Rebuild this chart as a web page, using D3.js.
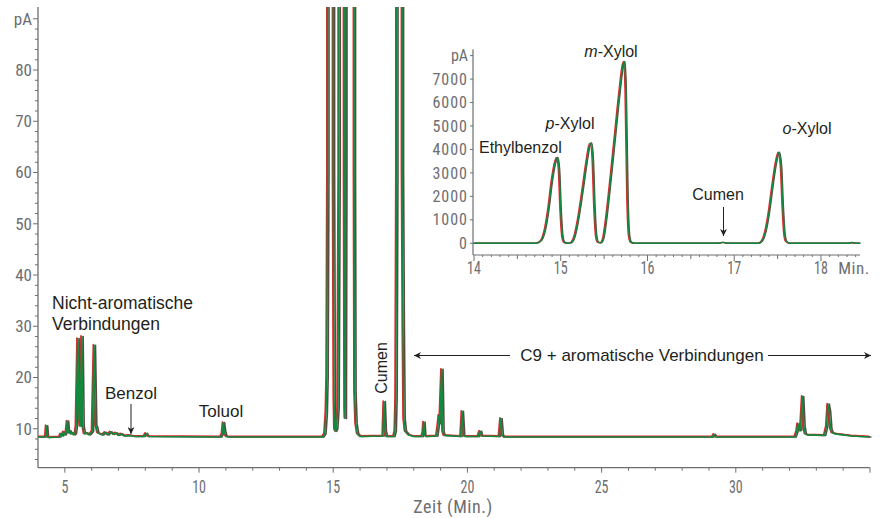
<!DOCTYPE html>
<html><head><meta charset="utf-8">
<script src="https://cdn.jsdelivr.net/npm/d3@7"></script>
<style>
html,body{margin:0;padding:0;background:#fff;}
svg{display:block;}
.tick-label{font-family:"Liberation Sans Narrow","Arial Narrow","Roboto Condensed",Roboto,sans-serif;fill:#6d6e71;}
.ann{font-family:"Liberation Sans",Arial,sans-serif;fill:#231f20;}
</style></head>
<body>
<svg id="chart" width="883" height="518"></svg>
<script>
// ---------- DATA ----------
const mainTime = [4.0,4.25,4.28,4.31,4.34,4.38,4.8,4.85,4.9,4.95,5.0,5.05,5.09,5.13,5.18,5.22,5.28,5.33,5.38,5.42,5.48,5.53,5.57,5.6,5.63,5.67,5.72,5.8,5.9,5.95,6.02,6.09,6.14,6.18,6.22,6.3,6.4,6.5,6.6,6.7,6.8,6.9,7.0,7.1,7.2,7.4,7.6,7.95,8.02,8.1,10.8,10.86,10.9,10.95,11.0,11.1,
14.6,14.68,14.73,14.76,14.79,14.9,15.0,15.03,15.05,15.08,15.12,15.17,15.21,15.33,15.41,15.43,15.44,15.46,15.73,15.78,15.8,15.84,15.9,16.0,
16.85,16.89,16.93,16.98,17.25,17.3,17.33,17.36,17.52,17.57,17.6,17.63,17.68,17.8,18.0,
18.3,18.34,18.37,18.4,18.45,18.85,18.9,18.94,18.97,19.04,19.08,19.12,19.75,19.8,19.85,19.9,20.4,20.45,20.48,20.52,21.18,21.24,21.29,21.35,
29.13,29.19,29.24,32.2,32.27,32.31,32.36,32.41,32.48,32.53,32.58,32.65,33.3,33.38,33.43,33.48,33.53,33.58,33.7,34.0,34.3,35.0];
const mainSignal = [8.4,8.4,8.6,10.6,8.6,8.3,8.4,9.0,8.6,9.4,8.8,9.5,11.5,9.2,9.6,9.0,9.2,8.8,9.0,10.5,27.6,12.0,10.5,20.0,28.0,10.5,9.0,9.2,8.8,9.0,9.5,26.3,10.8,10.2,9.2,9.0,8.8,9.3,8.8,9.4,8.9,9.2,8.7,9.0,8.6,8.7,8.5,8.5,9.1,8.5,8.4,9.0,11.2,9.3,8.5,8.4,
8.4,9.0,13.0,20.0,60,3650,60,16.0,10.0,9.5,10.0,14.0,60,4280,60,14.0,12.0,60,7750,60,17.0,11.0,9.0,8.5,
8.6,15.3,9.5,8.5,8.5,9.5,16,60,3880,60,30,12.0,9.5,8.8,8.5,
8.5,9.2,11.3,8.8,8.5,8.6,10.5,12.6,11.0,21.6,9.5,8.7,8.5,13.4,8.7,8.5,8.5,9.4,9.5,8.6,8.5,12.0,8.8,8.4,
8.4,8.9,8.4,8.4,9.5,11.0,9.6,9.8,16.3,10.5,9.0,8.8,8.7,10.5,14.8,13.5,10.0,9.2,9.0,8.8,8.6,8.4];

const insetTime = [14.0,14.7,14.74,14.78,14.82,14.86,14.9,14.94,14.96,14.98,15.0,15.02,15.04,15.08,15.12,15.16,15.2,15.25,15.3,15.33,15.35,15.37,15.39,15.41,15.43,15.46,15.49,15.53,15.58,15.63,15.68,15.72,15.735,15.75,15.77,15.79,15.81,15.85,16.8,16.84,16.87,16.9,16.94,17.28,17.32,17.36,17.4,17.44,17.48,17.515,17.54,17.56,17.58,17.6,17.64,18.33,18.36,18.39,18.45];
const insetSignal = [0,0,30,150,600,1500,2700,3500,3660,3200,1400,300,50,0,30,300,1000,2200,3500,4150,4280,3600,1500,300,50,20,200,1200,2900,4700,6500,7650,7750,6500,2000,300,50,0,0,15,40,15,0,0,100,500,1300,2400,3400,3880,3300,1600,400,80,0,0,40,0,0];

const mainXTicks = [5,10,15,20,25,30];
const mainYTicks = [10,20,30,40,50,60,70,80];
const insetXTicks = [14,15,16,17,18];
const insetYTicks = [0,1000,2000,3000,4000,5000,6000,7000];

// ---------- CHART ----------
const svg = d3.select("#chart");
const axisColor = "#6d6e71";
const traceColors = ["#5b4b46", "#e3262b", "#12893f"];
const traceDx = [1.4, -0.8, 0];

const x = d3.scaleLinear().domain([4, 35]).range([38, 870]);
const y = d3.scaleLinear().domain([2.4, 92.3]).range([467.7, 7]);

const defs = svg.append("defs");
defs.append("clipPath").attr("id","clipMain").append("rect")
  .attr("x", 38).attr("y", 7).attr("width", 834).attr("height", 461);
defs.append("clipPath").attr("id","clipInset").append("rect")
  .attr("x", 473).attr("y", 40).attr("width", 388).attr("height", 215);
const mk = defs.append("marker").attr("id","arrow").attr("viewBox","0 0 10 10")
  .attr("refX",10).attr("refY",5).attr("markerWidth",9).attr("markerHeight",7)
  .attr("markerUnits","userSpaceOnUse").attr("orient","auto");
mk.append("path").attr("d","M0,0 L10,5 L0,10 L3,5 Z").attr("fill","#231f20");

// main axes
const gx = svg.append("g").attr("transform", `translate(0,${y.range()[0]})`);
gx.append("line").attr("x1", x(4)).attr("x2", x(35)).attr("stroke", axisColor).attr("stroke-width",1.3);
gx.selectAll(".mt").data(d3.range(5, 36, 1)).join("line")
  .attr("x1", d => x(d)).attr("x2", d => x(d))
  .attr("y1", 0).attr("y2", d => (d % 5 === 0) ? 5 : 3)
  .attr("stroke", axisColor).attr("stroke-width",1);
gx.selectAll(".lbl").data(mainXTicks).join("text").attr("class","tick-label")
  .attr("transform", d => `translate(${x(d)},25) scale(0.8,1)`).attr("text-anchor","middle")
  .style("font-size","17.5px").text(d => d);
svg.append("text").attr("class","tick-label").attr("x", 453).attr("y", 513)
  .attr("text-anchor","middle").style("font-size","18px").style("letter-spacing","0.5px").text("Zeit (Min.)");

const gy = svg.append("g").attr("transform", `translate(${x(4)},0)`);
gy.append("line").attr("y1", y.range()[0]).attr("y2", y.range()[1]).attr("stroke", axisColor).attr("stroke-width",1.3);
gy.selectAll(".mt").data(d3.range(4, 92, 2)).join("line")
  .attr("x1", d => (d % 10 === 0) ? -5 : -3).attr("x2", 0)
  .attr("y1", d => y(d)).attr("y2", d => y(d))
  .attr("stroke", axisColor).attr("stroke-width",1);
gy.selectAll(".lbl").data(mainYTicks).join("text").attr("class","tick-label")
  .attr("x", -6).attr("y", d => y(d)).attr("dy","0.35em").attr("text-anchor","end")
  .style("font-size","17px").text(d => d);
gy.append("text").attr("class","tick-label").attr("x", -6).attr("y", y(90)).attr("dy","0.35em")
  .attr("text-anchor","end").style("font-size","17px").text("pA");

// main traces
const mainData = mainTime.map((t,i) => [t, mainSignal[i]]);
const lineMain = d3.line().x(d => x(d[0])).y(d => y(d[1]));
const gm = svg.append("g").attr("clip-path","url(#clipMain)");
traceColors.forEach((c,i) => {
  gm.append("path").datum(mainData).attr("d", lineMain)
    .attr("transform", `translate(${traceDx[i]},${i===1?-0.6:0})`)
    .attr("fill","none").attr("stroke", c).attr("stroke-width", 1.6).attr("stroke-linejoin","round");
});

// main annotations
svg.append("text").attr("class","ann").attr("x", 52).attr("y", 309).style("font-size","17.5px").text("Nicht-aromatische");
svg.append("text").attr("class","ann").attr("x", 52).attr("y", 330).style("font-size","17.5px").text("Verbindungen");
svg.append("text").attr("class","ann").attr("x", 131).attr("y", 399).attr("text-anchor","middle").style("font-size","17px").text("Benzol");
svg.append("line").attr("x1",131).attr("x2",131).attr("y1",404).attr("y2",434)
  .attr("stroke","#231f20").attr("stroke-width",1).attr("marker-end","url(#arrow)");
svg.append("text").attr("class","ann").attr("x", 221).attr("y", 417).attr("text-anchor","middle").style("font-size","17px").text("Toluol");
svg.append("text").attr("class","ann").attr("transform","translate(387,368) rotate(-90)")
  .attr("text-anchor","middle").style("font-size","16px").text("Cumen");
svg.append("text").attr("class","ann").attr("x", 642).attr("y", 361).attr("text-anchor","middle").style("font-size","17px")
  .text("C9 + aromatische Verbindungen");
svg.append("line").attr("x1",510).attr("x2",414).attr("y1",355.5).attr("y2",355.5)
  .attr("stroke","#231f20").attr("stroke-width",1.2).attr("marker-end","url(#arrow)");
svg.append("line").attr("x1",768).attr("x2",871).attr("y1",355.5).attr("y2",355.5)
  .attr("stroke","#231f20").attr("stroke-width",1.2).attr("marker-end","url(#arrow)");

// ---------- INSET ----------
const xi = d3.scaleLinear().domain([14, 18.45]).range([474, 860]);
const yi = d3.scaleLinear().domain([-500, 8270]).range([255, 49.3]);

const gix = svg.append("g").attr("transform", `translate(0,255)`);
gix.append("line").attr("x1", 473).attr("x2", 860).attr("stroke", axisColor).attr("stroke-width",1.2);
gix.selectAll(".mt").data(d3.range(140, 185, 1).map(d => d/10)).join("line")
  .attr("x1", d => xi(d)).attr("x2", d => xi(d)).attr("y1", 0)
  .attr("y2", d => (Math.abs(d - Math.round(d)) < 1e-6) ? 6 : (Math.abs(d*2 - Math.round(d*2)) < 1e-6 ? 4 : 2))
  .attr("stroke", axisColor).attr("stroke-width",1);
gix.selectAll(".lbl").data(insetXTicks).join("text").attr("class","tick-label")
  .attr("transform", d => `translate(${xi(d)},19) scale(0.8,1)`).attr("text-anchor","middle")
  .style("font-size","17.5px").text(d => d);
gix.append("text").attr("class","tick-label").attr("x", 854).attr("y", 19).attr("text-anchor","middle")
  .style("font-size","17px").style("letter-spacing","0.5px").text("Min.");

const giy = svg.append("g").attr("transform", `translate(473,0)`);
giy.append("line").attr("y1", 255).attr("y2", 49.3).attr("stroke", axisColor).attr("stroke-width",1.2);
giy.selectAll(".mt").data(insetYTicks.concat([8000])).join("line")
  .attr("x1",-3).attr("x2",0).attr("y1", d => yi(d)).attr("y2", d => yi(d))
  .attr("stroke", axisColor).attr("stroke-width",1);
giy.selectAll(".lbl").data(insetYTicks).join("text").attr("class","tick-label")
  .attr("x", -5).attr("y", d => yi(d)).attr("dy","0.35em").attr("text-anchor","end")
  .style("font-size","16px").style("letter-spacing","1px").text(d => d);
giy.append("text").attr("class","tick-label").attr("x", -5).attr("y", yi(8000)).attr("dy","0.35em")
  .attr("text-anchor","end").style("font-size","16px").text("pA");

const insetData = insetTime.map((t,i) => [t, insetSignal[i]]);
const lineInset = d3.line().x(d => xi(d[0])).y(d => yi(d[1])).curve(d3.curveMonotoneX);
const gin = svg.append("g").attr("clip-path","url(#clipInset)");
[["#e3262b",-0.8],["#5b4b46",0.6],["#12893f",0]].forEach(([c,dx]) => {
  gin.append("path").datum(insetData).attr("d", lineInset).attr("transform", `translate(${dx},0)`)
    .attr("fill","none").attr("stroke", c).attr("stroke-width", 1.4).attr("stroke-linejoin","round");
});

// inset annotations
svg.append("text").attr("class","ann").attr("x", 479).attr("y", 153).style("font-size","16px").text("Ethylbenzol");
const tp = svg.append("text").attr("class","ann").attr("x", 570).attr("y", 129).attr("text-anchor","middle").style("font-size","16px");
tp.append("tspan").style("font-style","italic").text("p");
tp.append("tspan").text("-Xylol");
const tm = svg.append("text").attr("class","ann").attr("x", 611).attr("y", 57).attr("text-anchor","middle").style("font-size","16px");
tm.append("tspan").style("font-style","italic").text("m");
tm.append("tspan").text("-Xylol");
const to = svg.append("text").attr("class","ann").attr("x", 807).attr("y", 134).attr("text-anchor","middle").style("font-size","16px");
to.append("tspan").style("font-style","italic").text("o");
to.append("tspan").text("-Xylol");
svg.append("text").attr("class","ann").attr("x", 718).attr("y", 200).attr("text-anchor","middle").style("font-size","16px").text("Cumen");
svg.append("line").attr("x1",723.5).attr("x2",723.5).attr("y1",207).attr("y2",236)
  .attr("stroke","#231f20").attr("stroke-width",1).attr("marker-end","url(#arrow)");
</script>
</body></html>
